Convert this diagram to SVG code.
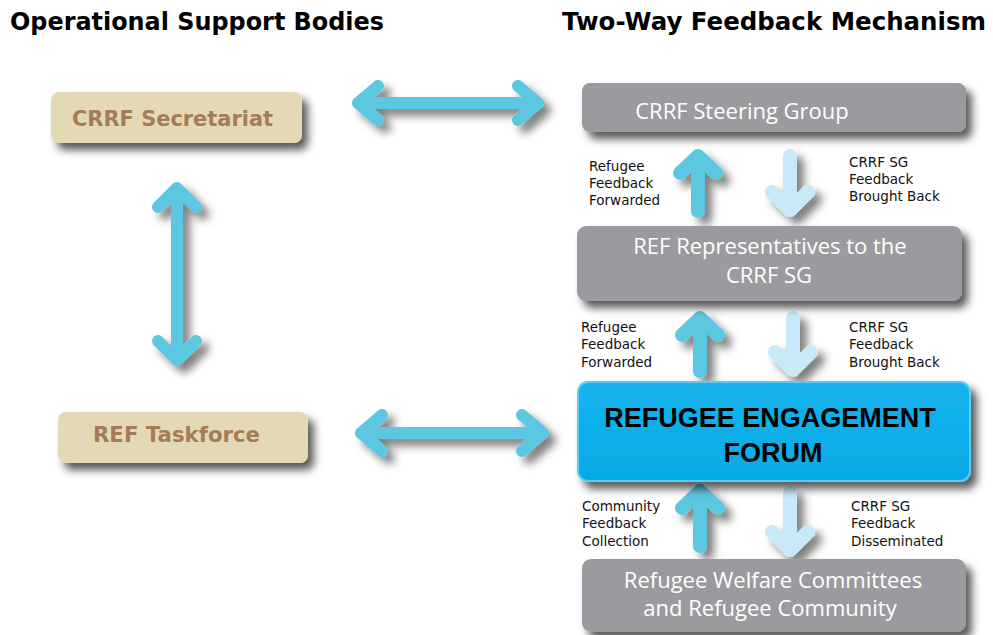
<svg xmlns="http://www.w3.org/2000/svg" width="993" height="635" viewBox="0 0 993 635">
<defs>
  <filter id="sh" x="-20%" y="-30%" width="140%" height="170%">
    <feDropShadow dx="6" dy="7" stdDeviation="4" flood-color="#000" flood-opacity="0.65"/>
  </filter>
  <filter id="sha" x="-40%" y="-40%" width="180%" height="180%">
    <feDropShadow dx="7" dy="7" stdDeviation="4" flood-color="#000" flood-opacity="0.5"/>
  </filter>
  <linearGradient id="fg" x1="0" y1="0" x2="0" y2="1">
    <stop offset="0" stop-color="#16b4ec"/>
    <stop offset="1" stop-color="#05aae6"/>
  </linearGradient>
</defs>
<style>
  .title{font-family:"DejaVu Sans",Verdana,sans-serif;font-weight:bold;font-size:24.5px;fill:#000}
  .beige{fill:#e3d9b5}
  .btxt{font-family:"DejaVu Sans",Tahoma,sans-serif;font-weight:bold;font-size:22px;fill:#a57c56}
  .gray{fill:#9b9b9f}
  .gtxt{font-family:"Open Sans","DejaVu Sans",sans-serif;font-size:22px;fill:#fff;text-anchor:middle}
  .ftxt{font-family:"Liberation Sans",Arial,sans-serif;font-weight:bold;font-size:27px;fill:#000;text-anchor:middle}
  .lbl{font-family:"DejaVu Sans",Tahoma,sans-serif;font-size:13.5px;fill:#111}
  .arr{fill:none;stroke:#5bc7e0;stroke-width:12;stroke-linecap:round;stroke-linejoin:round}
  .up{fill:none;stroke:#5bc7e0;stroke-width:14;stroke-linecap:round;stroke-linejoin:round}
  .dn{fill:none;stroke:#c7e9f8;stroke-width:14;stroke-linecap:round;stroke-linejoin:round}
</style>
<rect width="993" height="635" fill="#fff"/>
<text class="title" x="10" y="30" textLength="374" lengthAdjust="spacingAndGlyphs">Operational Support Bodies</text>
<text class="title" x="562" y="30" textLength="424" lengthAdjust="spacingAndGlyphs" style="font-size:24px">Two-Way Feedback Mechanism</text>

<g id="connectors">
  <g filter="url(#sha)">
    <path class="arr" d="M358,103 H538 M378,86 L358,103 L378,120 M518,86 L538,103 L518,120"/>
    <path class="arr" d="M361,433 H543 M382,415 L361,433 L382,451 M522,415 L543,433 L522,451"/>
    <path class="arr" d="M177,188 V360 M158,207 L177,188 L196,207 M158,341 L177,360 L196,341"/>
    <path class="up" d="M698,211 V156 M680,173 L698,156 L716,173"/>
    <path class="dn" d="M790,156 V210 M772,192 L790,210 L808,192"/>
    <path class="up" d="M700,371 V318 M682,335 L700,318 L718,335"/>
    <path class="dn" d="M793,318 V370 M775,352 L793,370 L811,352"/>
    <path class="up" d="M700,546 V491 M682,508 L700,491 L718,508"/>
    <path class="dn" d="M790,493 V550 M772,532 L790,550 L808,532"/>
  </g>
  <g class="lbl">
    <text x="589" y="171">Refugee</text>
    <text x="589" y="188">Feedback</text>
    <text x="589" y="205">Forwarded</text>
    <text x="849" y="167">CRRF SG</text>
    <text x="849" y="184">Feedback</text>
    <text x="849" y="201">Brought Back</text>
    <text x="581" y="332">Refugee</text>
    <text x="581" y="349">Feedback</text>
    <text x="581" y="367">Forwarded</text>
    <text x="849" y="332">CRRF SG</text>
    <text x="849" y="349">Feedback</text>
    <text x="849" y="367">Brought Back</text>
    <text x="582" y="511">Community</text>
    <text x="582" y="528">Feedback</text>
    <text x="582" y="546">Collection</text>
    <text x="851" y="511">CRRF SG</text>
    <text x="851" y="528">Feedback</text>
    <text x="851" y="546">Disseminated</text>
  </g>
</g>

<g id="crrf-secretariat">
  <rect class="beige" x="51" y="92" width="251" height="51" rx="8" filter="url(#sh)"/>
  <text class="btxt" x="72" y="126" textLength="201" lengthAdjust="spacingAndGlyphs">CRRF Secretariat</text>
</g>
<g id="ref-taskforce">
  <rect class="beige" x="58" y="412" width="250" height="51" rx="8" filter="url(#sh)"/>
  <text class="btxt" x="93" y="442" textLength="167" lengthAdjust="spacingAndGlyphs">REF Taskforce</text>
</g>
<g id="crrf-steering-group">
  <rect class="gray" x="582" y="83" width="384" height="49" rx="8" filter="url(#sh)"/>
  <text class="gtxt" x="742" y="119">CRRF Steering Group</text>
</g>
<g id="ref-representatives">
  <rect class="gray" x="577" y="226" width="385" height="75" rx="9" filter="url(#sh)"/>
  <text class="gtxt" x="770" y="254">REF Representatives to the</text>
  <text class="gtxt" x="769" y="283">CRRF SG</text>
</g>
<g id="refugee-engagement-forum">
  <rect x="578" y="382" width="392" height="99" rx="10" fill="url(#fg)" stroke="#5ccaf2" stroke-width="2" filter="url(#sh)"/>
  <text class="ftxt" x="770" y="427">REFUGEE ENGAGEMENT</text>
  <text class="ftxt" x="773" y="462">FORUM</text>
</g>
<g id="refugee-welfare-committees">
  <rect class="gray" x="582" y="559" width="384" height="73" rx="9" filter="url(#sh)"/>
  <text class="gtxt" x="773" y="588">Refugee Welfare Committees</text>
  <text class="gtxt" x="770" y="616">and Refugee Community</text>
</g>
</svg>
